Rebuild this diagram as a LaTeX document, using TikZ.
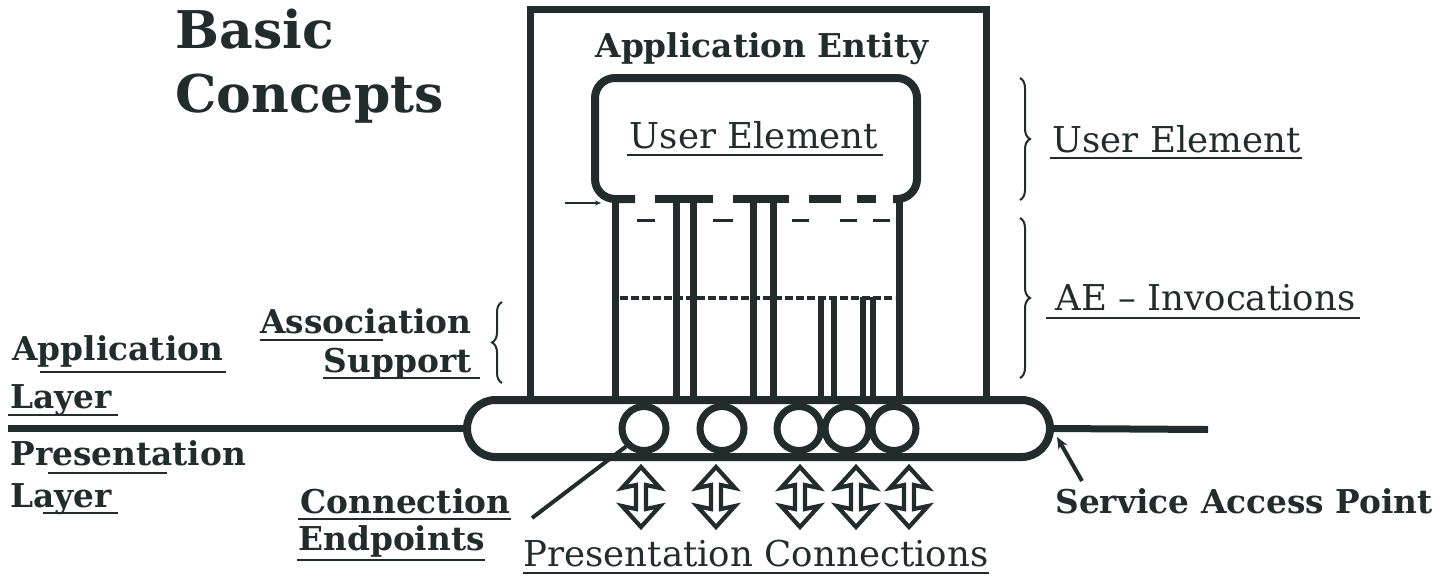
\documentclass[tikz,border=0pt]{standalone}
\usepackage{fontspec}
\setmainfont{DejaVu Serif}
\usetikzlibrary{shapes.misc,decorations.pathreplacing,arrows.meta}
\definecolor{ink}{RGB}{34,44,44}

\newcommand\boldlab{\fontsize{16.4pt}{19pt}\selectfont\bfseries}
\newcommand\reglab{\fontsize{17.8pt}{21pt}\selectfont}
\newcommand\titlefnt{\fontsize{26pt}{30pt}\selectfont\bfseries}
% underline below a text node: node, drop below baseline, left and right trims
\newcommand\underln[4]{\draw[uline] ([shift={(#3,#2)}]#1.base west) -- ([shift={(#4,#2)}]#1.base east);}

\tikzset{
  boxline/.style={draw=ink, line width=3.5pt, line join=miter},
  ueline/.style={draw=ink, line width=4pt},
  wire/.style={draw=ink, line width=3.5pt},
  thinwire/.style={draw=ink, line width=3pt},
  gapdash/.style={draw=ink, line width=1.5pt},
  midline/.style={draw=ink, line width=2pt, dash pattern=on 4pt off 1.5pt},
  layerline/.style={draw=ink, line width=3.5pt},
  sapbar/.style={rounded rectangle, draw=ink, fill=white, line width=4pt,
    minimum width=291.5pt, minimum height=28.5pt, inner sep=0pt},
  endpoint/.style={circle, draw=ink, fill=white, line width=3.5pt,
    minimum size=22pt, inner sep=0pt},
  pconn/.style={draw=ink, fill=white, line width=2.1pt, line join=miter},
  pointer/.style={draw=ink, line width=2pt},
  bracel/.style={draw=ink, line width=1pt, decorate, decoration={brace, amplitude=5pt}},
  uline/.style={draw=ink, line width=1pt},
  lab/.style={inner sep=0pt, text=ink, font=\boldlab},
  rlab/.style={inner sep=0pt, text=ink, font=\reglab},
  titlelab/.style={inner sep=0pt, text=ink, font=\titlefnt},
}

\begin{document}
\begin{tikzpicture}[x=0.5pt, y=-0.5pt]
\useasboundingbox (0,0) rectangle (1450,579);

% title
\node[titlelab, anchor=base west] (title1) at (175,48) {Basic};
\node[titlelab, anchor=base west] (title2) at (175,112) {Concepts};

% application entity frame, open at the bottom where it sits on the access point
\draw[boxline] (530,400) -- (530,9) -- (986,9) -- (986,400);
\node[lab, anchor=base] (aename) at (762,57) {Application Entity};

% user element box with a broken lower edge
\draw[ueline, rounded corners=10pt] (635,199) -- (595,199) -- (595,78) -- (917,78) -- (917,199) -- (893,199);
\foreach \a/\b in {655/713, 733/789, 809/841, 857/876}
  \draw[ueline] (\a,199) -- (\b,199);
\foreach \a/\b in {637/655, 713/733, 792/809, 840/857, 873/890}
  \draw[gapdash] (\a,220) -- (\b,220);
\node[rlab, anchor=base] (uename) at (754,148) {User Element};
\underln{uename}{7}{-3}{4}

% small tick at the left of the user element
\coordinate (tickA) at (565,203);
\coordinate (tickB) at (601,203);
\draw[draw=ink, line width=0.8pt, -{Stealth[length=3pt,width=2.5pt]}] (tickA) -- (tickB);

% invocation lines down to the access point
\foreach \x in {615, 676, 693, 753, 773, 899}
  \draw[wire] (\x,199) -- (\x,400);
\draw[midline] (620,298) -- (895,298);
\foreach \x in {821, 834, 863, 873}
  \draw[thinwire] (\x,297) -- (\x,400);

% layer boundary and service access point
\node[sapbar] (bar) at (758.5,428.5) {};
\coordinate (layL) at (8,428.5);
\coordinate (layR) at (1208,429.5);
\draw[layerline] (layL) -- (bar.west);
\draw[layerline] (bar.east) -- (layR);

% connection endpoints
\foreach \n/\x in {1/644, 2/722, 3/799, 4/847, 5/894}
  \node[endpoint] (cep\n) at (\x,428.5) {};

% presentation connections: hollow double-headed arrows
\foreach \n/\x in {1/641, 2/716, 3/800, 4/856, 5/909} {
  \coordinate (pc\n) at (\x,497);
  \begin{scope}[shift={(pc\n)}]
    \draw[pconn] (0,-30) -- (19,-9) -- (5,-12) -- (5,12) -- (19,9) -- (0,30)
      -- (-19,9) -- (-5,12) -- (-5,-12) -- (-19,-9) -- cycle;
  \end{scope}
}

% braces
\draw[bracel] (1020,78) -- (1020,200);
\draw[bracel] (1020,218) -- (1020,378);
\draw[bracel] (502,383) -- (502,302);

% labels on the right
\node[rlab, anchor=base west] (uebr) at (1052,152) {User Element};
\underln{uebr}{6}{-2}{1}
\node[rlab, anchor=base west] (aeinv) at (1055,310) {AE – Invocations};
\underln{aeinv}{8}{-9}{4}

% labels on the left
\node[lab, anchor=base east] (asso1) at (472,333) {Association};
\underln{asso1}{7}{0}{-89}
\node[lab, anchor=base east] (asso2) at (472,372) {Support};
\underln{asso2}{6}{0}{8}
\node[lab, anchor=base west] (al1) at (12,360) {Application};
\underln{al1}{12}{28}{2}
\node[lab, anchor=base west] (al2) at (10,408) {Layer};
\underln{al2}{7}{-2}{6}
\node[lab, anchor=base west] (pl1) at (10,465) {Presentation};
\underln{pl1}{8}{38}{-80}
\node[lab, anchor=base west] (pl2) at (10,507) {Layer};
\underln{pl2}{6}{33}{6}

\node[lab, anchor=base west] (ce1) at (300,513) {Connection};
\underln{ce1}{6}{-2}{0}
\node[lab, anchor=base west] (ce2) at (298,550) {Endpoints};
\underln{ce2}{10}{-1}{0}
\coordinate (cefoot) at (532,518);
\draw[pointer] (cefoot) -- (cep1.south west);

\node[lab, anchor=base west] (sap) at (1055,513) {Service Access Point};
\coordinate (sapfoot) at (1082,481);
\coordinate (saptip) at (1057,437);
\draw[pointer, -{Stealth[length=6pt,width=5pt]}] (sapfoot) -- (saptip);

\node[rlab, anchor=base west] (pcl) at (523,566) {Presentation Connections};
\underln{pcl}{7}{0}{0}
\end{tikzpicture}
\end{document}
